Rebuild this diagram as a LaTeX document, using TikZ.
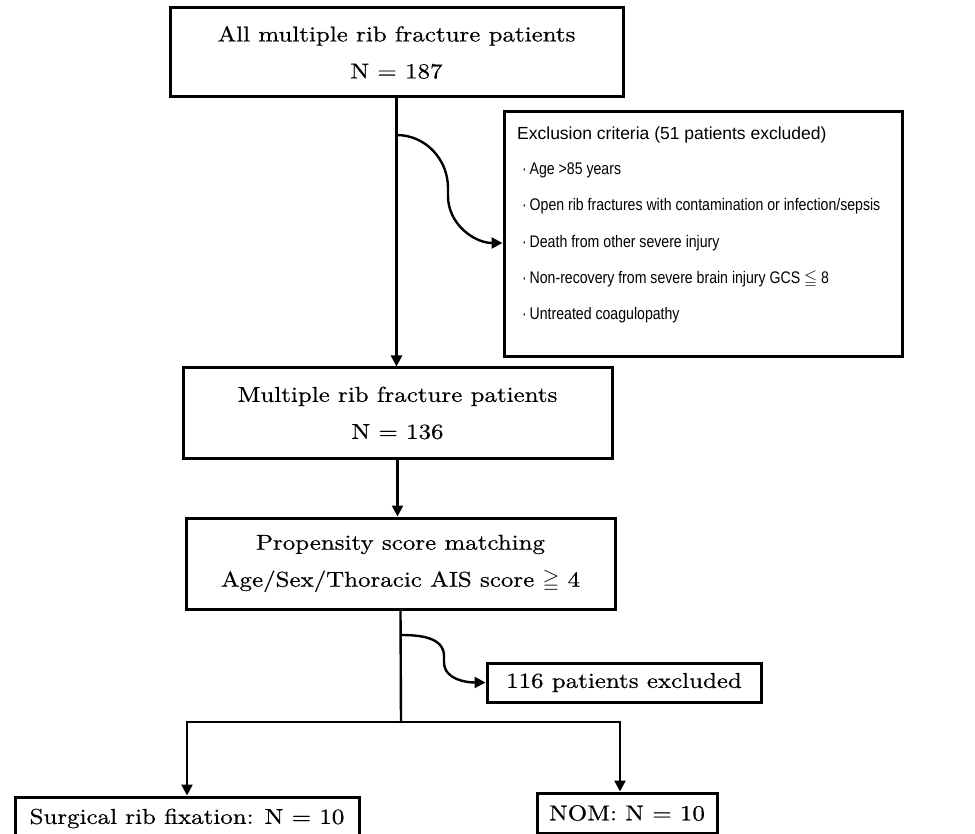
\documentclass[tikz,border=0pt]{standalone}
\usepackage{amssymb}
\usepackage{fontspec}
\newfontfamily\boxfont{lmroman10-regular.otf}[FakeStretch=1.16,FakeBold=0.6]
\newfontfamily\critsans{Liberation Sans}
\newfontfamily\itemfont{Liberation Sans}[FakeStretch=0.84]
\usetikzlibrary{arrows.meta}
\tikzset{
  box/.style={draw, line width=3pt, inner sep=0pt, align=center, font=\boxfont\fontsize{21.5}{37}\selectfont},
  conn/.style={line width=2.4pt},
  arr/.style={conn, -{Triangle[length=11pt,width=11pt]}},
  crit/.style={anchor=base west, inner sep=0pt, font=\itemfont\fontsize{16.8}{19}\selectfont},
  crittitle/.style={anchor=base west, inner sep=0pt, font=\critsans\fontsize{17.5}{20}\selectfont},
}
\begin{document}
\begin{tikzpicture}[x=1pt,y=-1pt]
\useasboundingbox (0,0) rectangle (975,834);
% boxes
\node[box, minimum width=453pt, minimum height=89pt] (all) at (396.5,52.5) {All multiple rib fracture patients\\N = 187};
\node[box, minimum width=429pt, minimum height=90pt] (mult) at (397.5,413) {Multiple rib fracture patients\\N = 136};
\node[box, minimum width=429pt, minimum height=91pt] (psm) at (400.5,563.5) {Propensity score matching\\Age/Sex/Thoracic AIS score $\geqq$ 4};
\node[box, minimum width=398pt, minimum height=245pt] (excl) at (703,234.5) {};
\node[box, minimum width=274pt, minimum height=39pt] (ex2) at (624,682.5) {116 patients excluded};
\node[box, minimum width=344pt, minimum height=43pt] (srf) at (187,818.5) {Surgical rib fixation: N = 10};
\node[box, minimum width=180pt, minimum height=40pt] (nom) at (627,813) {NOM: N = 10};
% exclusion criteria text
\node[crittitle] (ttl) at (517,140) {Exclusion criteria (51 patients excluded)};
\node[crit] (e1) at (522,175) {·\,Age >85 years};
\node[crit] (e2) at (522,211) {·\,Open rib fractures with contamination or infection/sepsis};
\node[crit] (e3) at (522,248) {·\,Death from other severe injury};
\node[crit] (e4) at (522,284) {·\,Non-recovery from severe brain injury GCS $\leqq$ 8};
\node[crit] (e5) at (522,320) {·\,Untreated coagulopathy};
% connectors
\coordinate (j1) at (396.5,135);
\coordinate (k1) at (448,188);
\coordinate (k2) at (448,196);
\draw[arr] (all.south) -- (all.south |- mult.north);
\draw[arr] (j1) to[out=0,in=90] (k1) -- (k2) to[out=-90,in=180] ([yshift=-8.5pt]excl.west);
\draw[arr] (mult.south) -- (mult.south |- psm.north);
\coordinate (j2) at (401,635);
\coordinate (k3) at (444,656);
\coordinate (k4) at (444,662);
\draw[arr] (j2) to[out=0,in=90] (k3) -- (k4) to[out=-90,in=180] (ex2.west);
\coordinate (split) at (401,722);
\draw[conn] (psm.south) -- (split);
\draw[arr] (split) -| (srf.north);
\draw[arr] (split) -| ([xshift=-7pt]nom.north);
\end{tikzpicture}
\end{document}
